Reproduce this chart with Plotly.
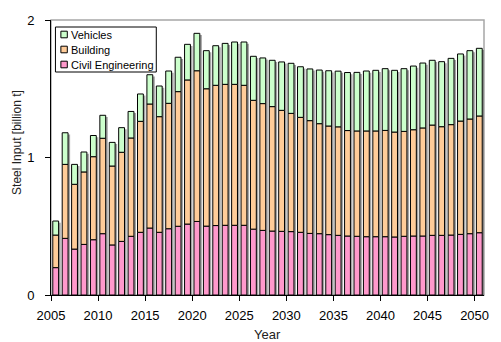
import plotly.graph_objects as go

years = list(range(2005, 2051))

civil_engineering = [
    0.199, 0.412, 0.334, 0.368, 0.402, 0.446, 0.364, 0.390, 0.427, 0.456,
    0.487, 0.456, 0.482, 0.500, 0.516, 0.535, 0.501, 0.505, 0.507, 0.507,
    0.507, 0.479, 0.470, 0.465, 0.463, 0.461, 0.456, 0.448, 0.446, 0.439,
    0.434, 0.429, 0.427, 0.424, 0.424, 0.424, 0.422, 0.427, 0.429, 0.429,
    0.434, 0.434, 0.436, 0.441, 0.446, 0.453,
]
building = [
    0.237, 0.538, 0.471, 0.527, 0.604, 0.694, 0.574, 0.648, 0.715, 0.807,
    0.902, 0.841, 0.912, 0.979, 1.048, 1.096, 0.999, 1.020, 1.025, 1.025,
    1.018, 0.937, 0.922, 0.905, 0.880, 0.860, 0.836, 0.820, 0.800, 0.790,
    0.789, 0.767, 0.766, 0.769, 0.769, 0.773, 0.763, 0.763, 0.773, 0.786,
    0.802, 0.790, 0.803, 0.824, 0.834, 0.849,
]
vehicles = [
    0.102, 0.230, 0.145, 0.145, 0.154, 0.167, 0.172, 0.179, 0.193, 0.199,
    0.213, 0.223, 0.235, 0.250, 0.259, 0.272, 0.277, 0.288, 0.298, 0.308,
    0.315, 0.320, 0.332, 0.337, 0.352, 0.364, 0.368, 0.376, 0.390, 0.402,
    0.405, 0.422, 0.426, 0.436, 0.441, 0.449, 0.449, 0.456, 0.463, 0.472,
    0.471, 0.473, 0.482, 0.488, 0.497, 0.492,
]

tick_years = [2005, 2010, 2015, 2020, 2025, 2030, 2035, 2040, 2045, 2050]
y_ticks = [0, 1, 2]

W, H = 501, 342
ML, MR, MT, MB = 51, 12, 20, 47
PW, PH = W - ML - MR, H - MT - MB

BAR_W = 0.62
FONT = "Liberation Sans, Arial, sans-serif"


def px_x(px):
    """pixel column -> paper x"""
    return (px - ML) / PW


def px_y(py):
    """pixel row -> paper y"""
    return (H - MB - py) / PH


base_building = civil_engineering
base_vehicles = [c + b for c, b in zip(civil_engineering, building)]
totals = [bv + v for bv, v in zip(base_vehicles, vehicles)]

fig = go.Figure()

# drop shadow behind each stacked column
fig.add_trace(go.Bar(
    x=years, y=[t - 0.012 for t in totals], base=0,
    width=BAR_W, offset=-BAR_W / 2 + 0.22,
    marker=dict(color="rgba(90,90,90,0.55)", line=dict(width=0)),
    showlegend=False, hoverinfo="skip",
))

series = [
    ("Civil Engineering", civil_engineering, [0] * len(years), "#FF99CC"),
    ("Building", building, base_building, "#FFCC99"),
    ("Vehicles", vehicles, base_vehicles, "#CCFFCC"),
]
for name, vals, base, color in series:
    fig.add_trace(go.Bar(
        x=years, y=vals, base=base, name=name,
        width=BAR_W, offset=-BAR_W / 2,
        marker=dict(color=color, line=dict(color="black", width=1)),
        showlegend=False,
    ))

shapes = []
annotations = []

# plot-area frame (top and right edges in grey)
shapes.append(dict(type="rect", xref="paper", yref="paper", x0=0, y0=0, x1=1, y1=1,
                   line=dict(color="#A6A6A6", width=1.5), layer="below"))

# compact legend box: Vehicles, Building, Civil Engineering (top to bottom)
shapes.append(dict(type="rect", xref="paper", yref="paper",
                   x0=px_x(55.5), x1=px_x(157.5), y0=px_y(72), y1=px_y(27),
                   line=dict(color="black", width=1), fillcolor="white", layer="above"))
for i, (name, _, _, color) in enumerate(reversed(series)):
    cy = 34.5 + 15 * i
    shapes.append(dict(type="rect", xref="paper", yref="paper",
                       x0=px_x(61), x1=px_x(67.5), y0=px_y(cy + 3.3), y1=px_y(cy - 3.3),
                       line=dict(color="black", width=1), fillcolor=color, layer="above"))
    annotations.append(dict(text=name, xref="paper", yref="paper",
                            x=px_x(69.5), y=px_y(cy), xanchor="left", yanchor="middle",
                            showarrow=False, font=dict(size=11, family=FONT, color="black")))

# axis titles
annotations.append(dict(text="Steel Input [billion t]", xref="paper", yref="paper",
                        x=px_x(16), y=px_y(142.5), textangle=-90,
                        xanchor="center", yanchor="middle", showarrow=False,
                        font=dict(size=12, family=FONT, color="#222222")))
annotations.append(dict(text="Year", xref="paper", yref="paper",
                        x=0.5, y=px_y(325), xanchor="center", yanchor="top",
                        showarrow=False, font=dict(size=13, family=FONT, color="#222222")))

fig.update_layout(
    width=W, height=H,
    margin=dict(l=ML, r=MR, t=MT, b=MB),
    barmode="overlay",
    paper_bgcolor="white", plot_bgcolor="white",
    font=dict(family=FONT, size=12, color="black"),
    showlegend=False,
    shapes=shapes,
    annotations=annotations,
)

fig.update_xaxes(
    range=[2004.5, 2050.5],
    tickvals=[y - 0.5 for y in tick_years],
    ticktext=[str(y) for y in tick_years],
    ticks="outside", ticklen=5, tickcolor="black", tickwidth=1,
    showline=True, linecolor="black", linewidth=1,
    showgrid=False, zeroline=False,
    tickfont=dict(size=13),
    ticklabelstandoff=3,
)
fig.update_yaxes(
    range=[0, 2],
    tickvals=y_ticks,
    ticks="outside", ticklen=5, tickcolor="black", tickwidth=1,
    showline=True, linecolor="black", linewidth=1,
    showgrid=False, zeroline=False,
    tickfont=dict(size=13),
    ticklabelstandoff=8,
)

fig.write_html("out.html")
